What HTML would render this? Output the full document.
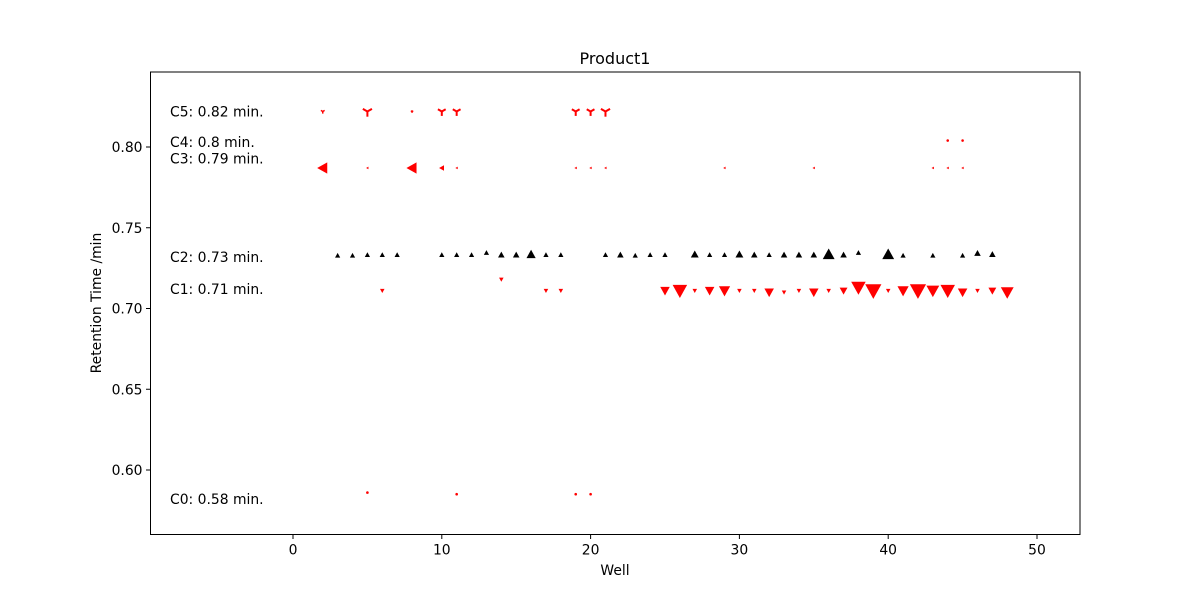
<!DOCTYPE html>
<html><head><meta charset="utf-8"><style>
body{margin:0;background:#fff;}
svg{display:block;font-family:"DejaVu Sans","Liberation Sans",sans-serif;}
</style></head><body>
<svg id="chart" width="1200" height="600" viewBox="0 0 1200 600" xmlns="http://www.w3.org/2000/svg">
<rect width="1200" height="600" fill="#fff"/>
<text x="615" y="64" font-size="16" text-anchor="middle">Product1</text>
<g id="marks"></g>
<g id="axes"></g>
<text x="615" y="575" font-size="13.9" text-anchor="middle">Well</text>
<text transform="translate(101,303) rotate(-90)" font-size="13.9" text-anchor="middle">Retention Time /min</text>
</svg>
<script>
const xTicks=[0,10,20,30,40,50];
const yTicks=[0.60,0.65,0.70,0.75,0.80];
const yTickLabels=["0.60","0.65","0.70","0.75","0.80"];
const compLabels=["C5: 0.82 min.","C4: 0.8 min.","C3: 0.79 min.","C2: 0.73 min.","C1: 0.71 min.","C0: 0.58 min."];
const compLabelY=[0.822,0.803,0.793,0.732,0.712,0.582];
// C2 black up triangles
const c2Wells=[3,4,5,6,7,10,11,12,13,14,15,16,17,18,21,22,23,24,25,27,28,29,30,31,32,33,34,35,36,37,38,40,41,43,45,46,47];
const c2Vals=[0.7328,0.7328,0.7332,0.7332,0.7332,0.7332,0.7332,0.7332,0.7345,0.7332,0.7332,0.7335,0.7332,0.7332,0.7332,0.7332,0.7328,0.7332,0.7332,0.7335,0.7332,0.7332,0.7335,0.7332,0.7332,0.7332,0.7332,0.7332,0.7335,0.7332,0.7345,0.7335,0.7328,0.7328,0.7328,0.7342,0.7335];
const c2Size=[3,3,3,3,3,3,3,3,3,4,4,6,3,3,3,4,3,3,3,5,3,3,5,4,3,4,4,4,8,4,3,8,3,3,3,4,4];
// C1 red down triangles
const c1Wells=[6,14,17,18,25,26,27,28,29,30,31,32,33,34,35,36,37,38,39,40,41,42,43,44,45,46,47,48];
const c1Vals=[0.711,0.718,0.711,0.711,0.711,0.711,0.711,0.711,0.711,0.711,0.711,0.710,0.710,0.711,0.710,0.711,0.711,0.713,0.711,0.711,0.711,0.711,0.711,0.711,0.710,0.711,0.711,0.710];
const c1Size=[2,2,2,2,5,8,2,5,6,2,2,5,2,2,5,2,4,8,9,2,6,9,7,8,5,2,4,7];
// C5 tri_down
const c5Wells=[2,5,8,10,11,19,20,21];
const c5Vals=[0.822,0.822,0.822,0.822,0.822,0.822,0.822,0.822];
const c5Size=[2,6,1,5,5,5,5,6];
// C4
const c4Wells=[44,45];
const c4Vals=[0.804,0.804];
// C3 left triangles
const c3Wells=[2,5,8,10,11,19,20,21,29,35,43,44,45];
const c3Vals=[0.787,0.787,0.787,0.787,0.787,0.787,0.787,0.787,0.787,0.787,0.787,0.787,0.787];
const c3Size=[7,1,7,3,1,1,1,1,1,1,1,1,1];
// C0
const c0Wells=[5,11,19,20];
const c0Vals=[0.586,0.585,0.585,0.585];

const X0=150.5,X1=1080,Y0=72,Y1=534.5;
const xs=w=>293+14.88*w;
const ys=v=>147+(0.80-v)*1615;
const NS="http://www.w3.org/2000/svg";
const marks=document.getElementById('marks'),axes=document.getElementById('axes');
function mk(tag,attrs,parent){const e=document.createElementNS(NS,tag);for(const k in attrs)e.setAttribute(k,attrs[k]);parent.appendChild(e);return e;}
function tri(cx,cy,s,dir){
  let p;
  if(dir==='up')p=[[cx,cy-s],[cx-s,cy+s*0.8],[cx+s,cy+s*0.8]];
  else if(dir==='down')p=[[cx,cy+s],[cx-s,cy-s*0.8],[cx+s,cy-s*0.8]];
  else p=[[cx-s,cy],[cx+s*0.8,cy-s],[cx+s*0.8,cy+s]];
  return p.map(q=>q.join(',')).join(' ');
}
c2Wells.forEach((w,i)=>{const e=mk('polygon',{points:tri(xs(w),ys(c2Vals[i]),c2Size[i]/1.5+0.6,'up'),fill:'#000'},marks);

});
c1Wells.forEach((w,i)=>{const e=mk('polygon',{points:tri(xs(w),ys(c1Vals[i]),c1Size[i]/1.2+0.6,'down'),fill:'#f00'},marks);

});
c3Wells.forEach((w,i)=>{const e=mk('polygon',{points:tri(xs(w),ys(c3Vals[i]),c3Size[i]/1.4+0.6,'left'),fill:'#f00'},marks);

});
c5Wells.forEach((w,i)=>{const g=mk('g',{stroke:'#f00','stroke-width':c5Size[i]>2?2:1.5,fill:'none'},marks);


const cx=xs(w),cy=ys(c5Vals[i]),s=c5Size[i]/1.3+0.6;
mk('line',{x1:cx,y1:cy,x2:cx,y2:cy+s},g);mk('line',{x1:cx,y1:cy,x2:cx-s*0.87,y2:cy-s*0.5},g);mk('line',{x1:cx,y1:cy,x2:cx+s*0.87,y2:cy-s*0.5},g);});
[[c4Wells,c4Vals,'c4-marker'],[c0Wells,c0Vals,'c0-marker']].forEach(([W,V,n])=>W.forEach((w,i)=>{const e=mk('circle',{cx:xs(w),cy:ys(V[i]),r:1.3,fill:'#f00'},marks);

}));
compLabels.forEach((t,i)=>{const e=mk('text',{x:170,y:ys(compLabelY[i])+5,'font-size':13.9},marks);e.textContent=t;

});
const frame=mk('rect',{x:X0,y:Y0,width:X1-X0,height:Y1-Y0,fill:'none',stroke:'#000','stroke-width':1},axes);


xTicks.forEach(t=>{const x=xs(t);mk('line',{x1:x,y1:Y1,x2:x,y2:Y1+4.5,stroke:'#000'},axes);
const e=mk('text',{x:x,y:Y1+20,'font-size':13.9,'text-anchor':'middle'},axes);e.textContent=t;

});
yTicks.forEach((t,i)=>{const y=ys(t);mk('line',{x1:X0,y1:y,x2:X0-4.5,y2:y,stroke:'#000'},axes);
const e=mk('text',{x:X0-8,y:y+5,'font-size':13.9,'text-anchor':'end'},axes);e.textContent=yTickLabels[i];

});
</script>
</body></html>
